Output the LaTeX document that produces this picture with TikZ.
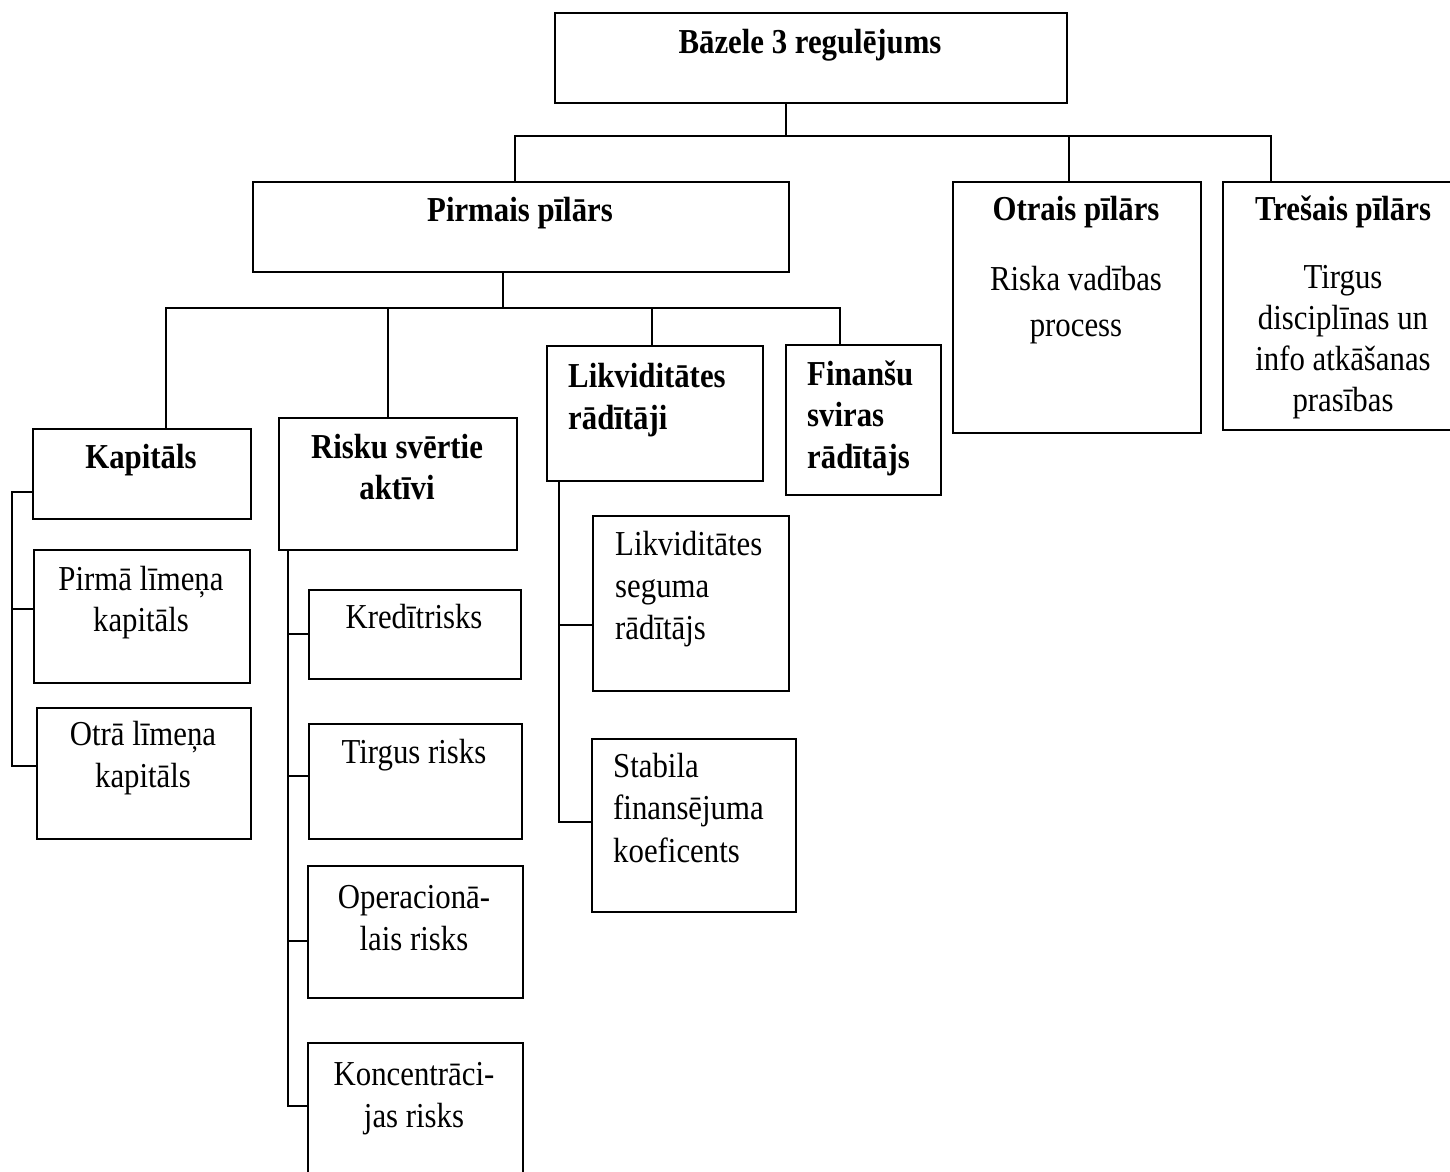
\documentclass[tikz,border=0pt]{standalone}
\usepackage{fontspec}
\setmainfont{Liberation Serif}[FakeStretch=0.88]
\newcommand\fsz{\fontsize{35}{41.8}\selectfont}
\tikzset{
  box/.style={draw, line width=1.8pt, inner sep=0pt, anchor=north west},
  ln/.style={line width=1.8pt},
  tx/.style={inner sep=0pt, anchor=base, font=\fsz},
  txl/.style={inner sep=0pt, anchor=base west, font=\fsz},
}
\newcommand\cbox[2]{\parbox[t]{#1}{\centering #2}}
\newcommand\lbox[2]{\parbox[t]{#1}{\raggedright #2}}
\begin{document}
\begin{tikzpicture}[x=1pt,y=-1pt]
\useasboundingbox (0,0) rectangle (1450,1171);
% boxes
\node[box, minimum width=512pt, minimum height=90pt] (top) at (554,12) {};
\node[box, minimum width=536pt, minimum height=90pt] (pp) at (252,181) {};
\node[box, minimum width=248pt, minimum height=251pt] (op) at (952,181) {};
\node[box, minimum width=242pt, minimum height=248pt] (tp) at (1222,181) {};
\node[box, minimum width=218pt, minimum height=90pt] (kap) at (32,428) {};
\node[box, minimum width=238pt, minimum height=132pt] (rsa) at (278,417) {};
\node[box, minimum width=216pt, minimum height=135pt] (lik) at (546,345) {};
\node[box, minimum width=155pt, minimum height=150pt] (fin) at (785,344) {};
\node[box, minimum width=216pt, minimum height=133pt] (pl) at (33,549) {};
\node[box, minimum width=214pt, minimum height=131pt] (ol) at (36,707) {};
\node[box, minimum width=212pt, minimum height=89pt] (kr) at (308,589) {};
\node[box, minimum width=213pt, minimum height=115pt] (tr) at (308,723) {};
\node[box, minimum width=215pt, minimum height=132pt] (opr) at (307,865) {};
\node[box, minimum width=215pt, minimum height=158pt] (kon) at (307,1042) {};
\node[box, minimum width=196pt, minimum height=175pt] (ls) at (592,515) {};
\node[box, minimum width=204pt, minimum height=173pt] (sf) at (591,738) {};
% texts
\node[tx] (t-top) at (810,53) {\textbf{Bāzele 3 regulējums}};
\node[tx] (t-pp) at (520,221) {\textbf{Pirmais pīlārs}};
\node[tx] (t-op) at (1076,220) {\textbf{Otrais pīlārs}};
\node[tx] (b-op) at (1076,290) {\fontsize{35}{46}\selectfont\cbox{300pt}{Riska vadības\\process}};
\node[tx] (t-tp) at (1343,220) {\textbf{Trešais pīlārs}};
\node[tx] (b-tp) at (1343,288) {\fontsize{35}{41.3}\selectfont\cbox{300pt}{Tirgus\\disciplīnas un\\info atkāšanas\\prasības}};
\node[tx] (t-kap) at (141,468) {\textbf{Kapitāls}};
\node[tx] (t-rsa) at (397,458) {\fontsize{35}{41}\selectfont\cbox{260pt}{\bfseries Risku svērtie\\aktīvi}};
\node[txl] (t-lik) at (568,387) {\fontsize{35}{42}\selectfont\lbox{200pt}{\bfseries Likviditātes\\rādītāji}};
\node[txl] (t-fin) at (807,385) {\fontsize{35}{41.5}\selectfont\lbox{150pt}{\bfseries Finanšu\\sviras\\rādītājs}};
\node[tx] (t-pl) at (141,590) {\fontsize{35}{41}\selectfont\cbox{230pt}{Pirmā līmeņa\\kapitāls}};
\node[tx] (t-ol) at (143,745) {\fontsize{35}{42}\selectfont\cbox{230pt}{Otrā līmeņa\\kapitāls}};
\node[tx] (t-kr) at (414,628) {Kredītrisks};
\node[tx] (t-tr) at (414,763) {Tirgus risks};
\node[tx] (t-opr) at (414,908) {\fontsize{35}{42}\selectfont\cbox{230pt}{Operacionā-\\lais risks}};
\node[tx] (t-kon) at (414,1085) {\fontsize{35}{42}\selectfont\cbox{230pt}{Koncentrāci-\\jas risks}};
\node[txl] (t-ls) at (615,555) {\fontsize{35}{42}\selectfont\lbox{180pt}{Likviditātes\\seguma\\rādītājs}};
\node[txl] (t-sf) at (613,777) {\fontsize{35}{42.5}\selectfont\lbox{190pt}{Stabila\\finansējuma\\koeficents}};
% connector coordinates
\coordinate (j0) at (786,136);
\coordinate (d1) at (515,136);
\coordinate (d2) at (1069,136);
\coordinate (d3) at (1271,136);
\coordinate (j1) at (503,308);
\coordinate (e1) at (166,308);
\coordinate (e2) at (388,308);
\coordinate (e3) at (652,308);
\coordinate (e4) at (840,308);
\coordinate (k0) at (12,492);
\coordinate (k1) at (12,609);
\coordinate (k2) at (12,766);
\coordinate (r1) at (288,634);
\coordinate (r2) at (288,776);
\coordinate (r3) at (288,941);
\coordinate (r4) at (288,1106);
\coordinate (q1) at (559,625);
\coordinate (q2) at (559,822);
% connectors
\draw[ln] (top.south -| j0) -- (j0);
\draw[ln] (d1 |- pp.north) -- (d1) -- (d3) -- (d3 |- tp.north);
\draw[ln] (d2) -- (d2 |- op.north);
\draw[ln] (pp.south -| j1) -- (j1);
\draw[ln] (e1 |- kap.north) -- (e1) -- (e4) -- (e4 |- fin.north);
\draw[ln] (e2) -- (e2 |- rsa.north);
\draw[ln] (e3) -- (e3 |- lik.north);
\draw[ln] (kap.west |- k0) -- (k0) -- (k2) -- (ol.west |- k2);
\draw[ln] (k1) -- (pl.west |- k1);
\draw[ln] (rsa.south -| r1) -- (r4) -- (kon.west |- r4);
\draw[ln] (r1) -- (kr.west |- r1);
\draw[ln] (r2) -- (tr.west |- r2);
\draw[ln] (r3) -- (opr.west |- r3);
\draw[ln] (lik.south -| q1) -- (q2) -- (sf.west |- q2);
\draw[ln] (q1) -- (ls.west |- q1);
\end{tikzpicture}
\end{document}
